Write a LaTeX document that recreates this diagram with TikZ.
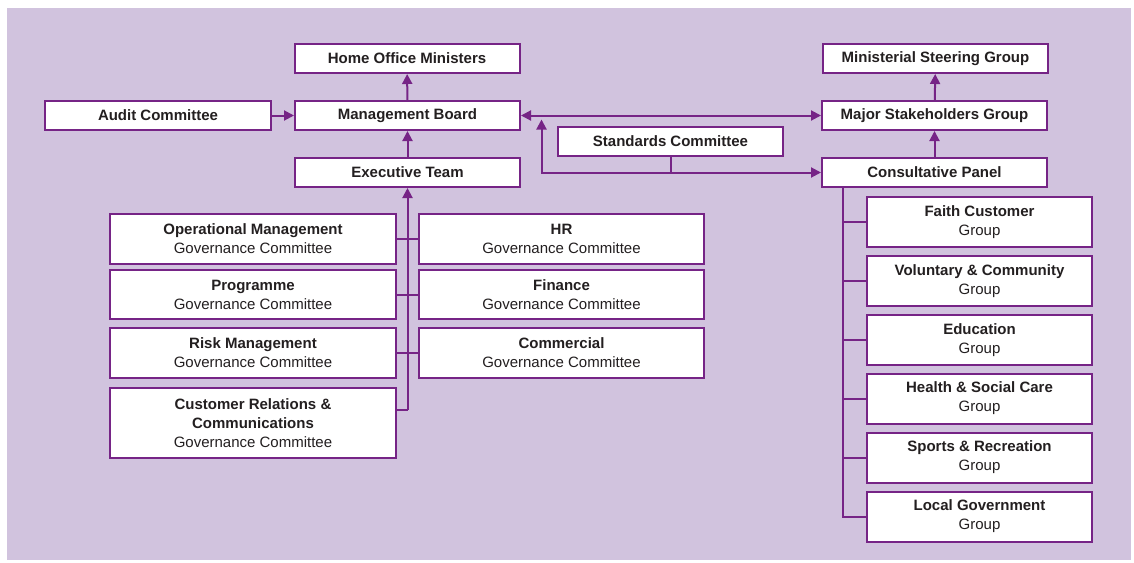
\documentclass[tikz,border=0pt]{standalone}
\usepackage{fontspec}
\setmainfont{Liberation Sans}
\usetikzlibrary{arrows.meta}
\definecolor{bgl}{RGB}{209,195,222}
\definecolor{purp}{RGB}{118,36,134}
\definecolor{txt}{RGB}{35,31,32}
\tikzset{
  box/.style={draw=purp, fill=white, line width=2pt, inner sep=0pt, align=center,
    minimum width=225pt, minimum height=29pt, text=txt, font=\fontsize{15}{19}\selectfont},
  tall/.style={box, minimum height=50pt},
  conn/.style={draw=purp, line width=2pt},
  arr/.style={conn, -{Triangle[length=10pt,width=10pt]}},
  darr/.style={conn, {Triangle[length=10pt,width=10pt]}-{Triangle[length=10pt,width=10pt]}},
}
\begin{document}
\begin{tikzpicture}[x=1pt,y=-1pt]
\useasboundingbox (0,0) rectangle (1134,562);
\fill[bgl] (7,8) rectangle (1131,560);
% top left column
\node[box] (ho) at (407,58.5) {\textbf{Home Office Ministers}};
\node[box] (mb) at (407.5,115.5) {\textbf{Management Board}};
\node[box] (et) at (407.5,172.5) {\textbf{Executive Team}};
\node[box, minimum width=226pt] (au) at (158,115.5) {\textbf{Audit Committee}};
\node[box] (sc) at (670.5,141.5) {\textbf{Standards Committee}};
% right column
\node[box] (ms) at (935.5,58.5) {\textbf{Ministerial Steering Group}};
\node[box] (mj) at (934.5,115.5) {\textbf{Major Stakeholders Group}};
\node[box] (cp) at (934.5,172.5) {\textbf{Consultative Panel}};
% left governance committees
\node[tall, minimum width=286pt] (op) at (253,238.5) {\textbf{Operational Management}\\Governance Committee};
\node[tall, minimum width=286pt, minimum height=49pt] (pr) at (253,294.5) {\textbf{Programme}\\Governance Committee};
\node[tall, minimum width=286pt] (rk) at (253,353) {\textbf{Risk Management}\\Governance Committee};
\node[tall, minimum width=286pt, minimum height=70pt] (cr) at (253,423) {\textbf{Customer Relations \&}\\\textbf{Communications}\\Governance Committee};
\node[tall, minimum width=285pt] (hr) at (561.5,238.5) {\textbf{HR}\\Governance Committee};
\node[tall, minimum width=285pt, minimum height=49pt] (fi) at (561.5,294.5) {\textbf{Finance}\\Governance Committee};
\node[tall, minimum width=285pt] (co) at (561.5,353) {\textbf{Commercial}\\Governance Committee};
% right groups
\node[tall] (g1) at (979.5,222) {\textbf{Faith Customer}\\Group};
\node[tall] (g2) at (979.5,281) {\textbf{Voluntary \& Community}\\Group};
\node[tall] (g3) at (979.5,340) {\textbf{Education}\\Group};
\node[tall] (g4) at (979.5,398.5) {\textbf{Health \& Social Care}\\Group};
\node[tall] (g5) at (979.5,457.5) {\textbf{Sports \& Recreation}\\Group};
\node[tall] (g6) at (979.5,516.5) {\textbf{Local Government}\\Group};
% coordinates
\coordinate (trunk) at (407.5,410);
\coordinate (crj) at ([yshift=13pt]cr.east);
\coordinate (up) at (541.5,119.5);
\coordinate (corner) at (541.5,172.5);
\coordinate (rtop) at ([xshift=22pt]cp.south west);
% connectors
\draw[arr] (au) -- (mb);
\draw[arr] (mb) -- (ho);
\draw[arr] (et) -- (mb);
\draw[darr] (mb) -- (mj);
\draw[arr] (mj) -- (ms);
\draw[arr] (cp) -- (mj);
\draw[darr] (up) -- (corner) -- (cp.west);
\draw[conn] (sc.south) -- (sc.south |- cp.west);
\draw[arr] (trunk) -- (et.south);
\draw[conn] (op.east) -- (hr.west);
\draw[conn] (pr.east) -- (fi.west);
\draw[conn] (rk.east) -- (co.west);
\draw[conn] (crj) -- (trunk);
\draw[conn] (rtop) -- (rtop |- g6.west) -- (g6.west);
\foreach \g in {g1,g2,g3,g4,g5} \draw[conn] (rtop |- \g.west) -- (\g.west);
\end{tikzpicture}
\end{document}
